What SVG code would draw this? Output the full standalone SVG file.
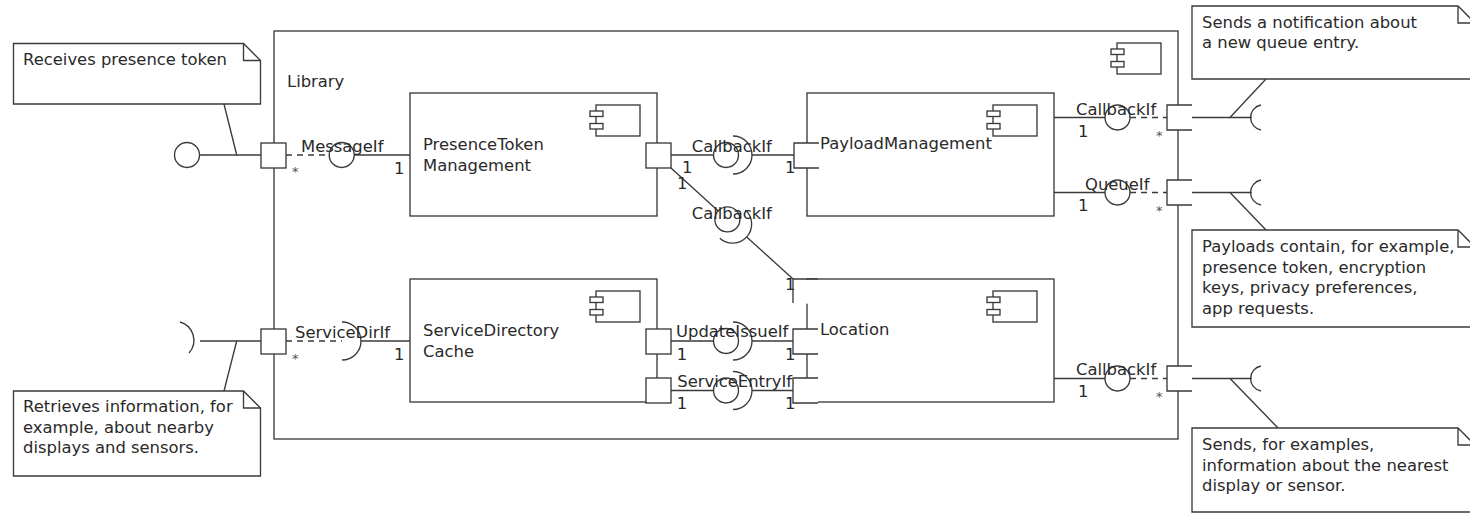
<svg xmlns="http://www.w3.org/2000/svg" width="1470" height="513" viewBox="0 0 1470 513">
  <style>
    .ln { fill: none; stroke: #3a3a3a; stroke-width: 1.35; }
    .dash { stroke-dasharray: 6 5; }
    .box { fill: #ffffff; stroke: #3a3a3a; stroke-width: 1.35; }
    .mask { fill: #ffffff; stroke: none; }
    text { font-family: "DejaVu Sans", "Liberation Sans", sans-serif; font-size: 16.4px; fill: #2a2a2a; }
    .ast { font-size: 13px; fill: #555555; }
  </style>
  <defs>
    <!-- UML component glyph -->
    <g id="icon">
      <rect class="box" x="6" y="0" width="44" height="31"/>
      <rect class="box" x="0" y="6" width="13" height="5.5"/>
      <rect class="box" x="0" y="18.5" width="13" height="5.5"/>
    </g>
  </defs>

  <rect width="1470" height="513" fill="#ffffff"/>

  <!-- Library (enclosing component) -->
  <g id="library">
    <rect class="box" x="274" y="31" width="904" height="408"/>
    <use href="#icon" x="1111" y="43"/>
    <text x="287" y="87">Library</text>
    <!-- boundary ports -->
    <rect class="box" x="261" y="143" width="25" height="25"/>
    <rect class="box" x="261" y="329" width="25" height="25"/>
    <rect class="mask" x="1167" y="105" width="25" height="25"/>
    <path class="ln" d="M1192,105 H1167 V130 H1192"/>
    <rect class="mask" x="1167" y="180" width="25" height="25"/>
    <path class="ln" d="M1192,180 H1167 V205 H1192"/>
    <rect class="mask" x="1167" y="366" width="25" height="25"/>
    <path class="ln" d="M1192,366 H1167 V391 H1192"/>
  </g>

  <g id="presence-token-management">
    <rect class="box" x="410" y="93" width="247" height="123"/>
    <use href="#icon" x="590" y="105"/>
    <text x="423" y="150">PresenceToken</text>
    <text x="423" y="170.5">Management</text>
    <rect class="box" x="646" y="143" width="25" height="25"/>
  </g>

  <g id="payload-management">
    <rect class="box" x="807" y="93" width="247" height="123"/>
    <use href="#icon" x="987" y="105"/>
    <rect class="mask" x="794" y="143" width="25" height="25"/>
    <path class="ln" d="M819,143 H794 V168 H819"/>
    <text x="820" y="149">PayloadManagement</text>
  </g>

  <g id="service-directory-cache">
    <rect class="box" x="410" y="279" width="247" height="123"/>
    <use href="#icon" x="590" y="291"/>
    <text x="423" y="336">ServiceDirectory</text>
    <text x="423" y="356.5">Cache</text>
    <rect class="box" x="646" y="329" width="25" height="25"/>
    <rect class="box" x="646" y="378" width="25" height="25"/>
  </g>

  <g id="location">
    <rect class="box" x="807" y="279" width="247" height="123"/>
    <use href="#icon" x="987" y="291"/>
    <rect class="mask" x="793" y="279.7" width="25" height="24"/>
    <path class="ln" d="M818,279 H793 V303"/>
    <rect class="mask" x="793" y="329" width="25" height="25"/>
    <path class="ln" d="M818,329 H793 V354 H818"/>
    <rect class="mask" x="793" y="378" width="25" height="25"/>
    <path class="ln" d="M818,378 H793 V403 H818"/>
    <text x="820" y="335">Location</text>
  </g>

  <g id="connectors">
    <!-- MessageIf: external ball and delegation -->
    <circle class="ln" cx="187" cy="155" r="12.5"/>
    <line class="ln" x1="199.5" y1="155" x2="261" y2="155"/>
    <line class="ln dash" x1="286" y1="155" x2="329" y2="155"/>
    <circle class="ln" cx="341.7" cy="155" r="12.5"/>
    <line class="ln" x1="354.2" y1="155" x2="410" y2="155"/>
    <text x="301" y="152">MessageIf</text>
    <text class="ast" x="292" y="176">*</text>
    <text x="394" y="174">1</text>

    <!-- ServiceDirIf: external socket and delegation -->
    <path class="ln" d="M180,322 A19,19 0 0 1 189,353"/>
    <line class="ln" x1="200" y1="341" x2="261" y2="341"/>
    <line class="ln dash" x1="286" y1="341" x2="342" y2="341"/>
    <path class="ln" d="M342,322 A19,19 0 0 1 342,360"/>
    <line class="ln" x1="361" y1="341" x2="410" y2="341"/>
    <text x="295" y="338">ServiceDirIf</text>
    <text class="ast" x="292" y="363">*</text>
    <text x="394" y="360">1</text>

    <!-- CallbackIf: PresenceTokenManagement to PayloadManagement -->
    <line class="ln" x1="671" y1="155" x2="713.5" y2="155"/>
    <circle class="ln" cx="726" cy="155" r="12.5"/>
    <path class="ln" d="M733,136 A19,19 0 0 1 733,174"/>
    <line class="ln" x1="752" y1="155" x2="794" y2="155"/>
    <text x="691.7" y="151.7">CallbackIf</text>
    <text x="682" y="173">1</text>
    <text x="785" y="173">1</text>

    <!-- CallbackIf: PresenceTokenManagement to Location -->
    <line class="ln" x1="671" y1="168" x2="718.2" y2="210.9"/>
    <circle class="ln" cx="727.4" cy="219.4" r="12.5"/>
    <path class="ln" d="M745.4,210 A19,19 0 0 1 719.8,238.2"/>
    <line class="ln" x1="746.7" y1="236.9" x2="793" y2="279"/>
    <text x="677" y="189">1</text>
    <text x="691.7" y="219.3">CallbackIf</text>
    <text x="785" y="290">1</text>

    <!-- UpdateIssueIf -->
    <line class="ln" x1="671" y1="341" x2="713.5" y2="341"/>
    <circle class="ln" cx="726" cy="341" r="12.5"/>
    <path class="ln" d="M733,322 A19,19 0 0 1 733,360"/>
    <line class="ln" x1="752" y1="341" x2="793" y2="341"/>
    <text x="676" y="337.3">UpdateIssueIf</text>
    <text x="676.7" y="360">1</text>
    <text x="785" y="360">1</text>

    <!-- ServiceEntryIf -->
    <line class="ln" x1="671" y1="390.5" x2="713.5" y2="390.5"/>
    <circle class="ln" cx="726" cy="390.5" r="12.5"/>
    <path class="ln" d="M733,371.5 A19,19 0 0 1 733,409.5"/>
    <line class="ln" x1="752" y1="390.5" x2="793" y2="390.5"/>
    <text x="677.3" y="387.3">ServiceEntryIf</text>
    <text x="676.7" y="409.3">1</text>
    <text x="785" y="409.3">1</text>

    <!-- PayloadManagement CallbackIf delegation -->
    <line class="ln" x1="1054" y1="117.5" x2="1105" y2="117.5"/>
    <circle class="ln" cx="1117.5" cy="117.5" r="12.5"/>
    <line class="ln dash" x1="1130" y1="117.5" x2="1167" y2="117.5"/>
    <text x="1076" y="115">CallbackIf</text>
    <text x="1078" y="136.7">1</text>
    <text class="ast" x="1156" y="140">*</text>

    <!-- QueueIf delegation -->
    <line class="ln" x1="1054" y1="192.5" x2="1105" y2="192.5"/>
    <circle class="ln" cx="1117.5" cy="192.5" r="12.5"/>
    <line class="ln dash" x1="1130" y1="192.5" x2="1167" y2="192.5"/>
    <text x="1085" y="190">QueueIf</text>
    <text x="1078" y="210.5">1</text>
    <text class="ast" x="1156" y="214.5">*</text>

    <!-- Location CallbackIf delegation -->
    <line class="ln" x1="1054" y1="378.5" x2="1105" y2="378.5"/>
    <circle class="ln" cx="1117.5" cy="378.5" r="12.5"/>
    <line class="ln dash" x1="1130" y1="378.5" x2="1167" y2="378.5"/>
    <text x="1076" y="375">CallbackIf</text>
    <text x="1078" y="396.7">1</text>
    <text class="ast" x="1156" y="400.5">*</text>

    <!-- external sockets on the right -->
    <line class="ln" x1="1192" y1="117.5" x2="1251.7" y2="117.5"/>
    <path class="ln" d="M1261,105 A12.7,12.7 0 0 0 1261,130"/>
    <line class="ln" x1="1192" y1="192.5" x2="1251.7" y2="192.5"/>
    <path class="ln" d="M1261,180 A12.7,12.7 0 0 0 1261,205"/>
    <line class="ln" x1="1192" y1="378.5" x2="1251.7" y2="378.5"/>
    <path class="ln" d="M1261,366 A12.7,12.7 0 0 0 1261,391"/>

    <!-- note anchors -->
    <line class="ln" x1="224" y1="104" x2="236.7" y2="155"/>
    <line class="ln" x1="236.7" y1="341" x2="224" y2="391"/>
    <line class="ln" x1="1266" y1="79" x2="1230" y2="117.5"/>
    <line class="ln" x1="1230" y1="192.5" x2="1266" y2="230"/>
    <line class="ln" x1="1230" y1="378.5" x2="1278" y2="428"/>
  </g>

  <g id="note-presence">
    <path class="box" d="M13.5,43.5 H243.5 L260.5,60.5 V104 H13.5 Z"/>
    <path class="ln" d="M243.5,43.5 V60.5 H260.5"/>
    <text x="23" y="65">Receives presence token</text>
  </g>

  <g id="note-directory">
    <path class="box" d="M13.5,391 H243.5 L260.5,408 V476 H13.5 Z"/>
    <path class="ln" d="M243.5,391 V408 H260.5"/>
    <text x="23" y="412.3">Retrieves information, for</text>
    <text x="23" y="432.8">example, about nearby</text>
    <text x="23" y="453.3">displays and sensors.</text>
  </g>

  <g id="note-queue">
    <path class="box" d="M1192,6 H1458 L1475,23 V79 H1192 Z"/>
    <path class="ln" d="M1458,6 V23 H1475"/>
    <text x="1202" y="27.5">Sends a notification about</text>
    <text x="1202" y="48">a new queue entry.</text>
  </g>

  <g id="note-payload">
    <path class="box" d="M1192,230 H1458 L1475,247 V327 H1192 Z"/>
    <path class="ln" d="M1458,230 V247 H1475"/>
    <text x="1202" y="252">Payloads contain, for example,</text>
    <text x="1202" y="272.5">presence token, encryption</text>
    <text x="1202" y="293">keys, privacy preferences,</text>
    <text x="1202" y="313.5">app requests.</text>
  </g>

  <g id="note-location">
    <path class="box" d="M1192,428 H1458 L1475,445 V512 H1192 Z"/>
    <path class="ln" d="M1458,428 V445 H1475"/>
    <text x="1202" y="450">Sends, for examples,</text>
    <text x="1202" y="470.5">information about the nearest</text>
    <text x="1202" y="491">display or sensor.</text>
  </g>
</svg>
